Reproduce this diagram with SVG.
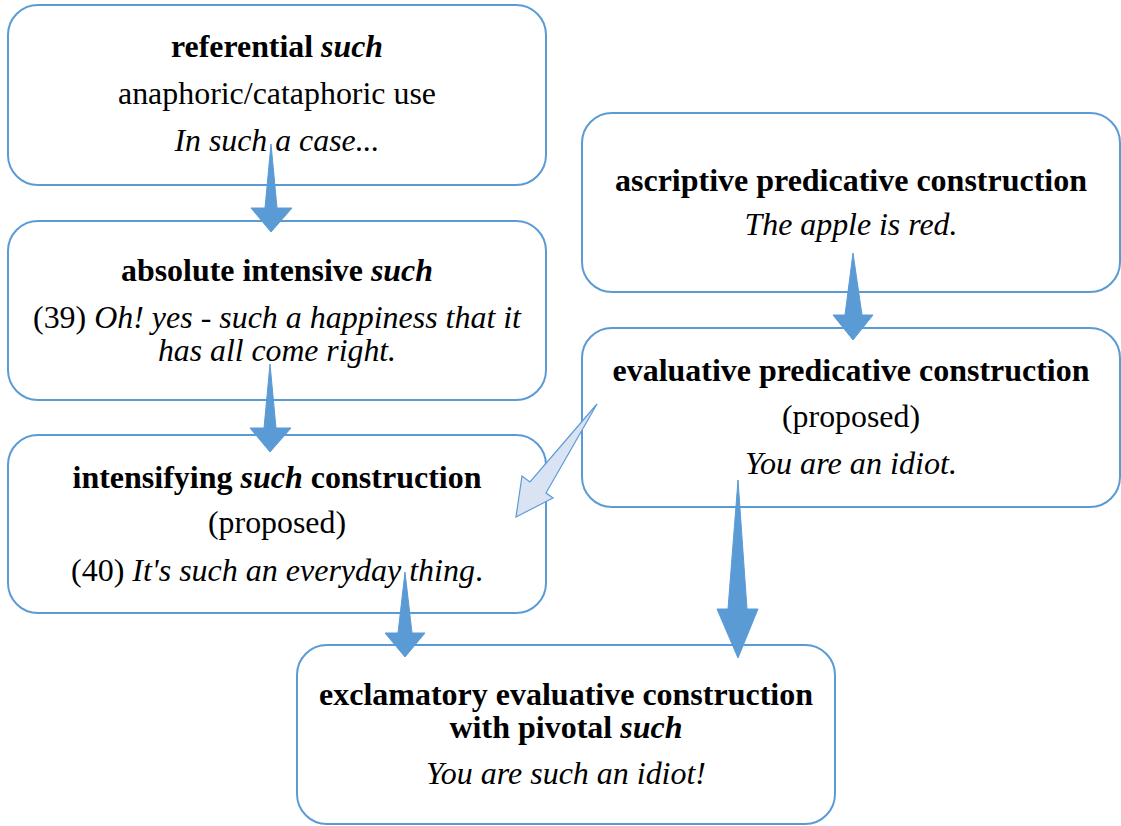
<svg xmlns="http://www.w3.org/2000/svg" width="1121" height="826" viewBox="0 0 1121 826">
<style>
.box{fill:#fff;stroke:#5b9bd5;stroke-width:2}
text{font-family:"Liberation Serif","Times New Roman",serif;font-size:32px;fill:#000;text-anchor:middle}
.b{font-weight:bold}
.i{font-style:italic}
.arr{fill:#5b9bd5;stroke:#5b9bd5;stroke-width:1}
.arrl{fill:#dae3f3;stroke:#5b9bd5;stroke-width:1.2;stroke-linejoin:miter}
</style>
<rect width="1121" height="826" fill="#fff"/>
<g id="n1">
<rect class="box" x="8" y="5" width="538" height="180" rx="30"/>
<text x="277" y="57" class="b" textLength="212" lengthAdjust="spacingAndGlyphs">referential <tspan class="i">such</tspan></text>
<text x="277" y="104" textLength="318" lengthAdjust="spacingAndGlyphs">anaphoric/cataphoric use</text>
<text x="277" y="151" class="i" textLength="205" lengthAdjust="spacingAndGlyphs">In such a case...</text>
</g>
<g id="n2">
<rect class="box" x="8" y="221" width="538" height="179" rx="30"/>
<text x="277" y="281" class="b" textLength="312" lengthAdjust="spacingAndGlyphs">absolute intensive <tspan class="i">such</tspan></text>
<text x="277" y="328" textLength="488" lengthAdjust="spacingAndGlyphs">(39) <tspan class="i">Oh! yes - such a happiness that it</tspan></text>
<text x="277" y="361" class="i" textLength="238" lengthAdjust="spacingAndGlyphs">has all come right.</text>
</g>
<g id="n3">
<rect class="box" x="8" y="435" width="538" height="178" rx="30"/>
<text x="277" y="488" class="b" textLength="409" lengthAdjust="spacingAndGlyphs">intensifying <tspan class="i">such</tspan> construction</text>
<text x="277" y="533" textLength="138" lengthAdjust="spacingAndGlyphs">(proposed)</text>
<text x="277" y="581" textLength="412" lengthAdjust="spacingAndGlyphs">(40) <tspan class="i">It's such an everyday thing</tspan>.</text>
</g>
<g id="n4">
<rect class="box" x="582" y="113" width="538" height="179" rx="30"/>
<text x="851" y="191" class="b" textLength="472" lengthAdjust="spacingAndGlyphs">ascriptive predicative construction</text>
<text x="851" y="235" class="i" textLength="213" lengthAdjust="spacingAndGlyphs">The apple is red.</text>
</g>
<g id="n5">
<rect class="box" x="582" y="328" width="538" height="179" rx="30"/>
<text x="851" y="381" class="b" textLength="477" lengthAdjust="spacingAndGlyphs">evaluative predicative construction</text>
<text x="851" y="427" textLength="138" lengthAdjust="spacingAndGlyphs">(proposed)</text>
<text x="851" y="474" class="i" textLength="212" lengthAdjust="spacingAndGlyphs">You are an idiot.</text>
</g>
<g id="n6">
<rect class="box" x="297" y="645" width="538" height="179" rx="30"/>
<text x="566" y="705" class="b" textLength="494" lengthAdjust="spacingAndGlyphs">exclamatory evaluative construction</text>
<text x="566" y="738" class="b" textLength="233" lengthAdjust="spacingAndGlyphs">with pivotal <tspan class="i">such</tspan></text>
<text x="566" y="784" class="i" textLength="280" lengthAdjust="spacingAndGlyphs">You are such an idiot!</text>
</g>
<g id="connectors">
<polygon class="arr" points="271,144 277,208 292,208 271,232 251,208 265,208"/>
<polygon class="arr" points="270,364 276,428 291,428 270,452 250,428 264,428"/>
<polygon class="arr" points="405,572 412,633 425,633 405,657 385,633 398,633"/>
<polygon class="arr" points="738,480 747,609 758,609 738,658 717,609 728,609"/>
<polygon class="arr" points="853,253 862,315 873,315 853,340 833,315 845,315"/>
<polygon class="arrl" points="597,404 546,493 553,498 516,517 522,476 530,482"/>
</g>
</svg>
